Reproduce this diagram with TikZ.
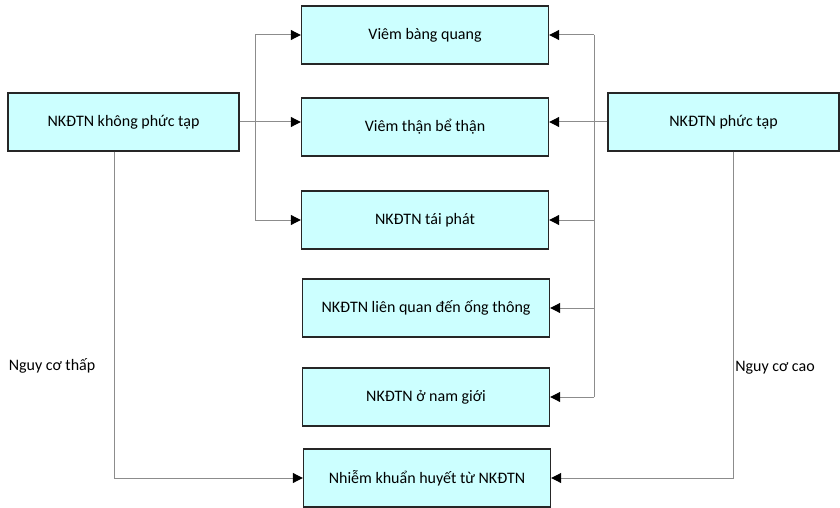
\documentclass[tikz,border=0pt]{standalone}
\usepackage{fontspec}
\setmainfont{Carlito}
\usetikzlibrary{arrows.meta}

\definecolor{boxfill}{RGB}{204,255,255}

\begin{document}
\begin{tikzpicture}[x=1pt, y=-1pt, align=center,
  font=\fontsize{16}{19}\selectfont,
  box/.style={draw=black!85, line width=1.4pt, fill=boxfill, minimum height=58pt, inner sep=0pt},
  line/.style={draw=black!45, line width=1pt},
  arr/.style={line, -{Triangle[black, length=10pt, width=10pt]}}]

\useasboundingbox (0, 0) rectangle (840, 508);

\node [box, minimum width=231pt] (nkk) at (123.5, 122) {NKĐTN không phức tạp};
\node [box, minimum width=231pt] (nkp) at (723.5, 122) {NKĐTN phức tạp};

\node [box, minimum width=247pt] (vbq) at (425, 35) {Viêm bàng quang};
\node [box, minimum width=247pt] (vtbt) at (425, 127) {Viêm thận bể thận};
\node [box, minimum width=247pt] (tp) at (425, 220) {NKĐTN tái phát};
\node [box, minimum width=247pt] (ot) at (426, 308) {NKĐTN liên quan đến ống thông};
\node [box, minimum width=247pt] (nam) at (426, 397) {NKĐTN ở nam giới};
\node [box, minimum width=247pt] (nkh) at (427, 478) {Nhiễm khuẩn huyết từ NKĐTN};

\node (thap) at (52, 366) {Nguy cơ thấp};
\node (cao) at (775, 368) {Nguy cơ cao};

\coordinate (lj) at (255, 0);
\coordinate (rj) at (594, 0);

% left side
\draw [arr] (nkk.east) -- (nkk.east -| vtbt.west);
\draw [line] (lj |- vbq) -- (lj |- tp);
\foreach \b in {vbq, tp}
  \draw [arr] (lj |- \b) -- (\b.west);

% right side
\draw [arr] (nkp.west) -- (nkp.west -| vtbt.east);
\draw [line] (rj |- vbq) -- (rj |- nam);
\foreach \b in {vbq, tp, ot, nam}
  \draw [arr] (rj |- \b) -- (\b.east);

% risk
\draw [arr] ([xshift=-9.5pt]nkk.south) |- (nkh.west);
\draw [arr] ([xshift=9.5pt]nkp.south) |- (nkh.east);

\end{tikzpicture}
\end{document}
